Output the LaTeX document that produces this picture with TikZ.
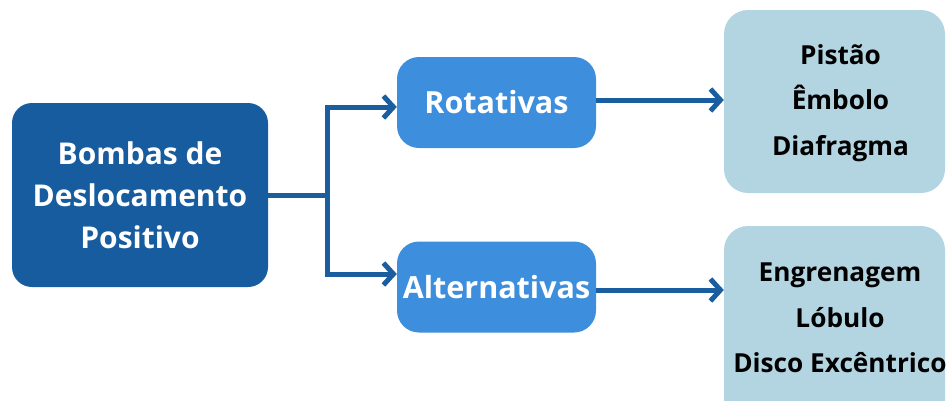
\documentclass[tikz,border=0pt]{standalone}
\usepackage{fontspec}
\setmainfont{Open Sans}
\usetikzlibrary{arrows.meta}
\definecolor{mainblue}{RGB}{23,92,158}
\definecolor{midblue}{RGB}{61,142,221}
\definecolor{lightbox}{RGB}{179,212,225}
\definecolor{arrowblue}{RGB}{26,94,160}
\tikzset{
  mainbox/.style={fill=mainblue, rounded corners=20pt, minimum width=256pt, minimum height=184pt, inner sep=0pt, text=white, align=center, font=\bfseries\fontsize{30}{42}\selectfont},
  midbox/.style={fill=midblue, rounded corners=22pt, minimum width=199pt, minimum height=91pt, inner sep=0pt, text=white, font=\bfseries\fontsize{30.5}{34}\selectfont},
  rightbox/.style={fill=lightbox, rounded corners=24pt, inner sep=0pt},
  righttext/.style={text=black, align=center, font=\bfseries\fontsize{26.2}{45.5}\selectfont},
  conn/.style={draw=arrowblue, line width=5pt},
  arr/.style={conn, -{Straight Barb[length=10pt, width=22pt, line width=5pt]}}
}
\begin{document}
\begin{tikzpicture}[x=1pt, y=-1pt]
\useasboundingbox (0,0) rectangle (947,400);
\node[mainbox] (main) at (140,195) {Bombas de\\Deslocamento\\Positivo};
\node[midbox] (rot) at (496.5,102.5) {Rotativas};
\node[midbox] (alt) at (496.5,287) {Alternativas};
\node[rightbox, minimum width=221pt, minimum height=183pt] (r1) at (834.5,101.5) {};
\node[rightbox, minimum width=221pt, minimum height=200pt] (r2) at (834.5,326) {};
\node[righttext] (t1) at (840.5,103) {Pistão\\Êmbolo\\Diafragma};
\node[righttext] (t2) at (840,318) {Engrenagem\\Lóbulo\\Disco Excêntrico};
\coordinate (split) at (327,195);
\draw[conn] (main.east |- split) -- (split);
\draw[arr] (split) -- (327,107) -- (rot.west |- 0,107);
\draw[arr] (split) -- (327,274) -- (alt.west |- 0,274);
\draw[arr] (rot.east |- 0,100) -- (r1.west |- 0,100);
\draw[arr] (alt.east |- 0,290) -- (r2.west |- 0,290);
\end{tikzpicture}
\end{document}
